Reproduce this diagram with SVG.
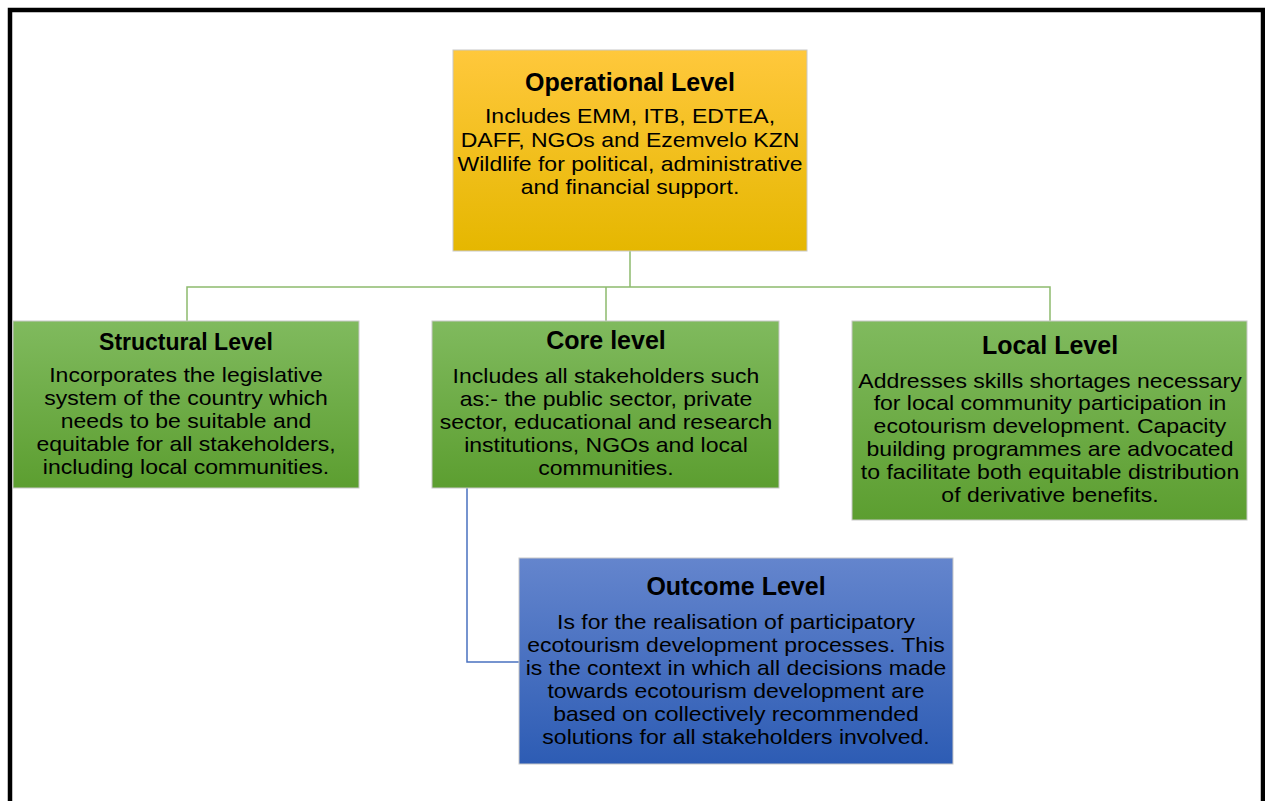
<svg xmlns="http://www.w3.org/2000/svg" width="1265" height="801" viewBox="0 0 1265 801">
<defs>
<linearGradient id="gGold" x1="0" y1="0" x2="0" y2="1"><stop offset="0" stop-color="#FFC83C"/><stop offset="1" stop-color="#E5B700"/></linearGradient>
<linearGradient id="gGreen" x1="0" y1="0" x2="0" y2="1"><stop offset="0" stop-color="#80BA5E"/><stop offset="1" stop-color="#5C9E30"/></linearGradient>
<linearGradient id="gBlue" x1="0" y1="0" x2="0" y2="1"><stop offset="0" stop-color="#6485CD"/><stop offset="1" stop-color="#2D5CB4"/></linearGradient>
</defs>
<style>
text{font-family:"Liberation Sans",Arial,sans-serif;fill:#000;text-anchor:middle}
.t{font-weight:bold;font-size:25px}
.ts{font-weight:bold;font-size:23px}
.b{font-size:20px}
.box{stroke:#c8c8c8;stroke-width:1}
.cg{fill:none;stroke:#8DBB6E;stroke-width:1.5}
.cb{fill:none;stroke:#4A72C0;stroke-width:1.5}
</style>
<rect x="0" y="0" width="1265" height="801" fill="#fff"/>
<rect x="10" y="10" width="1253" height="800" fill="none" stroke="#000" stroke-width="4.5"/>
<g id="connectors">
<path class="cg" d="M630,251 V287 M187,321 V287 H1050 V321 M606,287 V321"/>
<path class="cb" d="M467,488 V662 H519"/>
</g>
<g id="operational">
<rect class="box" x="453" y="50" width="354" height="201" fill="url(#gGold)"/>
<text class="t" x="630" y="91">Operational Level</text>
<text class="b" transform="translate(630,123) scale(1.15,1)">Includes EMM, ITB, EDTEA,</text>
<text class="b" transform="translate(630,147) scale(1.15,1)">DAFF, NGOs and Ezemvelo KZN</text>
<text class="b" transform="translate(630,171) scale(1.15,1)">Wildlife for political, administrative</text>
<text class="b" transform="translate(630,194) scale(1.15,1)">and financial support.</text>
</g>
<g id="structural">
<rect class="box" x="13" y="321" width="346" height="167" fill="url(#gGreen)"/>
<text class="ts" x="186" y="350">Structural Level</text>
<text class="b" transform="translate(186,382) scale(1.15,1)">Incorporates the legislative</text>
<text class="b" transform="translate(186,405) scale(1.15,1)">system of the country which</text>
<text class="b" transform="translate(186,428) scale(1.15,1)">needs to  be suitable and</text>
<text class="b" transform="translate(186,451) scale(1.15,1)">equitable for all stakeholders,</text>
<text class="b" transform="translate(186,474) scale(1.15,1)">including local communities.</text>
</g>
<g id="core">
<rect class="box" x="432" y="321" width="347" height="167" fill="url(#gGreen)"/>
<text class="t" x="606" y="349">Core level</text>
<text class="b" transform="translate(606,383) scale(1.15,1)">Includes all stakeholders such</text>
<text class="b" transform="translate(606,406) scale(1.15,1)">as:- the public sector, private</text>
<text class="b" transform="translate(606,429) scale(1.15,1)">sector, educational and research</text>
<text class="b" transform="translate(606,452) scale(1.15,1)">institutions, NGOs and  local</text>
<text class="b" transform="translate(606,475) scale(1.15,1)">communities.</text>
</g>
<g id="local">
<rect class="box" x="852" y="321" width="395" height="199" fill="url(#gGreen)"/>
<text class="t" x="1050" y="354">Local Level</text>
<text class="b" transform="translate(1050,388) scale(1.15,1)">Addresses skills shortages necessary</text>
<text class="b" transform="translate(1050,410) scale(1.15,1)">for local community participation in</text>
<text class="b" transform="translate(1050,433) scale(1.15,1)">ecotourism development. Capacity</text>
<text class="b" transform="translate(1050,456) scale(1.15,1)">building programmes are advocated</text>
<text class="b" transform="translate(1050,479) scale(1.15,1)">to facilitate both equitable distribution</text>
<text class="b" transform="translate(1050,502) scale(1.15,1)">of derivative  benefits.</text>
</g>
<g id="outcome">
<rect class="box" x="519" y="558" width="434" height="206" fill="url(#gBlue)"/>
<text class="t" x="736" y="595">Outcome Level</text>
<text class="b" transform="translate(736,629) scale(1.15,1)">Is for the realisation of participatory</text>
<text class="b" transform="translate(736,652) scale(1.15,1)">ecotourism development processes. This</text>
<text class="b" transform="translate(736,675) scale(1.15,1)">is the context in which all decisions made</text>
<text class="b" transform="translate(736,698) scale(1.15,1)">towards ecotourism development are</text>
<text class="b" transform="translate(736,721) scale(1.15,1)">based on collectively recommended</text>
<text class="b" transform="translate(736,744) scale(1.15,1)">solutions  for all stakeholders involved.</text>
</g>
</svg>
